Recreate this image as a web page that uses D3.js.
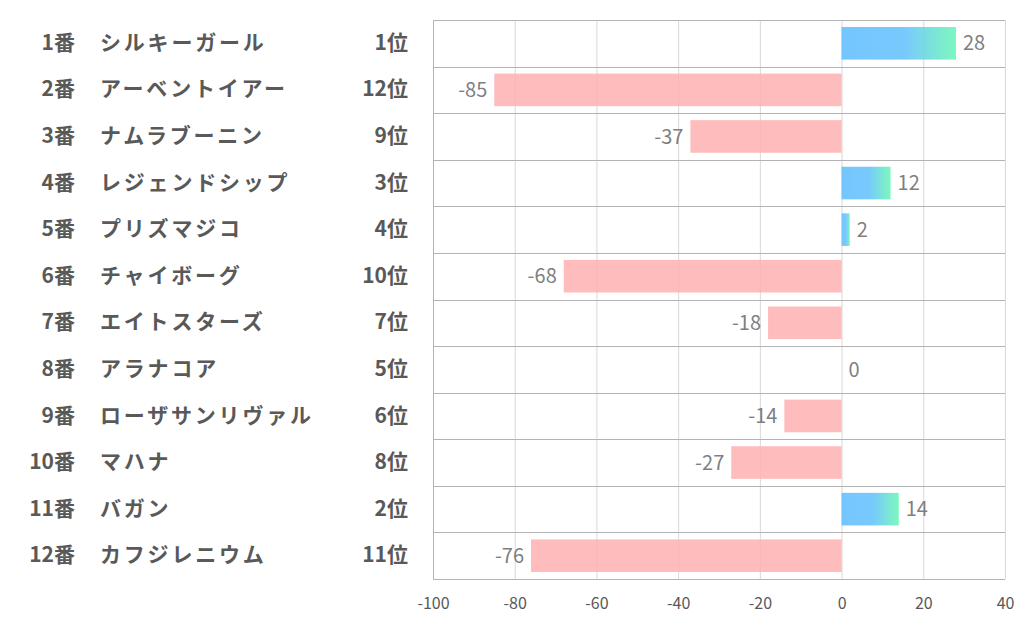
<!DOCTYPE html>
<html>
<head>
<meta charset="utf-8">
<script src="https://cdn.jsdelivr.net/npm/d3@7"></script>
<style>
  body { margin: 0; background: #fff; }
  text { font-family: "Noto Sans CJK JP", "Noto Sans", sans-serif; }
</style>
</head>
<body>
<div id="chart"></div>
<script>
// data
var numbers = ["1番", "2番", "3番", "4番", "5番", "6番", "7番", "8番", "9番", "10番", "11番", "12番"];
var horses = ["シルキーガール", "アーベントイアー", "ナムラブーニン", "レジェンドシップ", "プリズマジコ", "チャイボーグ",
    "エイトスターズ", "アラナコア", "ローザサンリヴァル", "マハナ", "バガン", "カフジレニウム"];
var ranks = ["1位", "12位", "9位", "3位", "4位", "10位", "7位", "5位", "6位", "8位", "2位", "11位"];
var values = [28, -85, -37, 12, 2, -68, -18, 0, -14, -27, 14, -76];
var xTicks = [-100, -80, -60, -40, -20, 0, 20, 40];

var width = 1022, height = 626;
var margin = { top: 20, right: 17, bottom: 47, left: 433 };

var svg = d3.select("#chart").append("svg")
    .attr("width", width)
    .attr("height", height);

var defs = svg.append("defs");
var grad = defs.append("linearGradient")
    .attr("id", "posGrad")
    .attr("x1", "0%").attr("x2", "100%")
    .attr("y1", "0%").attr("y2", "0%");
grad.append("stop").attr("offset", "0%").attr("stop-color", "#5bbcfe");
grad.append("stop").attr("offset", "55%").attr("stop-color", "#60c0fc");
grad.append("stop").attr("offset", "100%").attr("stop-color", "#66f6b2");

var x = d3.scaleLinear()
    .domain([-100, 40])
    .range([margin.left, width - margin.right]);

var y = d3.scaleBand()
    .domain(d3.range(values.length))
    .range([margin.top, height - margin.bottom])
    .paddingInner(0.3)
    .paddingOuter(0.15);

var rowH = (height - margin.bottom - margin.top) / values.length;

// vertical grid lines
svg.append("g").selectAll("line")
    .data(xTicks)
    .enter().append("line")
    .attr("x1", function(d) { return x(d) + 0.5; })
    .attr("x2", function(d) { return x(d) + 0.5; })
    .attr("y1", margin.top)
    .attr("y2", height - margin.bottom)
    .attr("stroke", "#d9d9d9")
    .attr("stroke-width", 1);

// horizontal row lines
svg.append("g").selectAll("line")
    .data(d3.range(values.length + 1))
    .enter().append("line")
    .attr("x1", margin.left)
    .attr("x2", width - margin.right)
    .attr("y1", function(i) { return Math.round(margin.top + i * rowH) + 0.5; })
    .attr("y2", function(i) { return Math.round(margin.top + i * rowH) + 0.5; })
    .attr("stroke", "#b3b3b3")
    .attr("stroke-width", 1);

// left border
svg.append("line")
    .attr("x1", margin.left + 0.5).attr("x2", margin.left + 0.5)
    .attr("y1", margin.top).attr("y2", height - margin.bottom)
    .attr("stroke", "#b3b3b3");

// bars (slightly see-through, gridlines show faintly)
svg.append("g").selectAll("rect")
    .data(values)
    .enter().append("rect")
    .attr("x", function(d) { return x(Math.min(0, d)); })
    .attr("y", function(d, i) { return y(i); })
    .attr("width", function(d) { return Math.abs(x(d) - x(0)); })
    .attr("height", y.bandwidth())
    .attr("fill", function(d) { return d >= 0 ? "url(#posGrad)" : "#ffb0b1"; })
    .attr("fill-opacity", 0.85);

// value labels
svg.append("g").selectAll("text")
    .data(values)
    .enter().append("text")
    .attr("x", function(d) { return d >= 0 ? x(d) + 7 : x(d) - 7; })
    .attr("y", function(d, i) { return y(i) + y.bandwidth() / 2; })
    .attr("dy", "0.36em")
    .attr("text-anchor", function(d) { return d >= 0 ? "start" : "end"; })
    .attr("font-size", 20)
    .attr("fill", "#7f7f7f")
    .text(function(d) { return d; });

// x axis
var xAxis = svg.append("g")
    .attr("transform", "translate(0," + (height - margin.bottom) + ")")
    .call(d3.axisBottom(x).tickValues(xTicks).tickSize(0).tickPadding(19)
        .tickFormat(function(d) { return String(d); }));
xAxis.select(".domain").remove();
xAxis.selectAll("text")
    .attr("font-size", 16)
    .attr("fill", "#595959")
    .style("font-family", "\"Noto Sans CJK JP\", sans-serif");

// row labels
var rows = svg.append("g").selectAll("g")
    .data(values)
    .enter().append("g")
    .attr("transform", function(d, i) { return "translate(0," + (y(i) + y.bandwidth() / 2 - 1) + ")"; });

rows.append("text")
    .attr("x", 75)
    .attr("dy", "0.36em")
    .attr("text-anchor", "end")
    .attr("font-size", 21)
    .attr("font-weight", "bold")
    .attr("fill", "#595959")
    .text(function(d, i) { return numbers[i]; });

rows.append("text")
    .attr("x", 100)
    .attr("dy", "0.36em")
    .attr("font-size", 21)
    .attr("font-weight", "bold")
    .attr("letter-spacing", 2.8)
    .attr("fill", "#595959")
    .text(function(d, i) { return horses[i]; });

rows.append("text")
    .attr("x", 408)
    .attr("dy", "0.36em")
    .attr("text-anchor", "end")
    .attr("font-size", 21)
    .attr("font-weight", "bold")
    .attr("fill", "#595959")
    .text(function(d, i) { return ranks[i]; });
</script>
</body>
</html>
